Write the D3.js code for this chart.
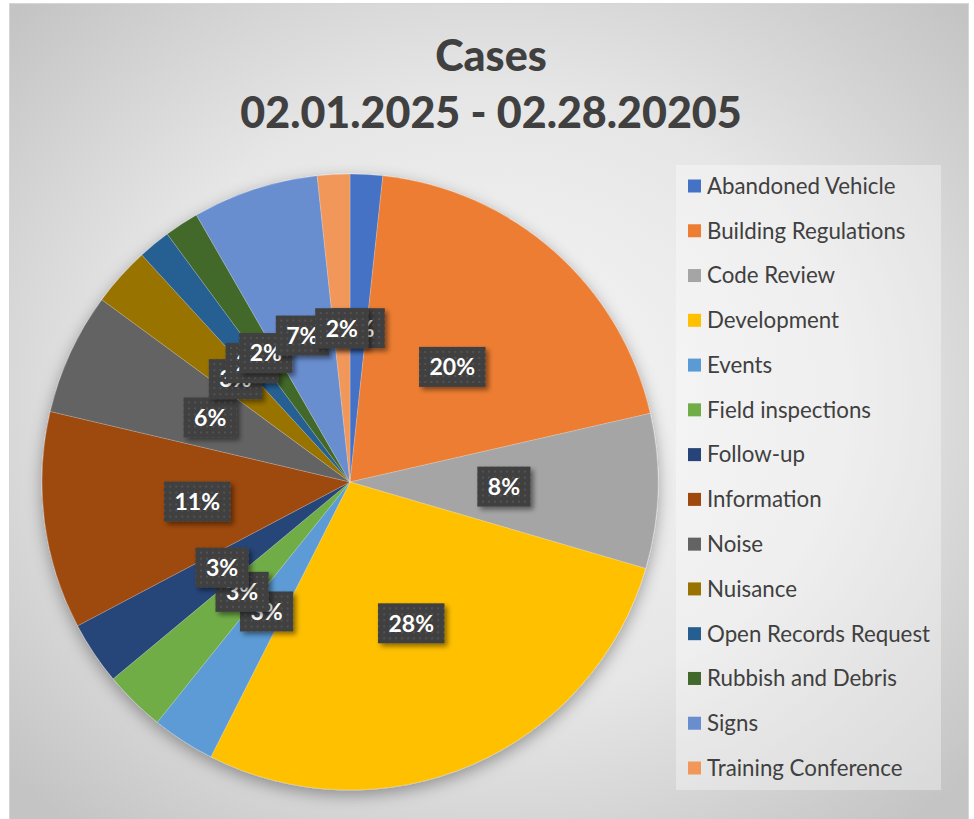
<!DOCTYPE html>
<html>
<head>
<meta charset="utf-8">
<script src="https://cdn.jsdelivr.net/npm/d3@7"></script>
<style>
  body { margin: 0; background: #fff; }
  svg { display: block; }
</style>
</head>
<body>
<div id="chart"></div>
<script>
// Categories and their shares
const categories = [
    "Abandoned Vehicle", "Building Regulations", "Code Review", "Development",
    "Events", "Field inspections", "Follow-up", "Information", "Noise",
    "Nuisance", "Open Records Request", "Rubbish and Debris", "Signs",
    "Training Conference"
];
const shares = [1.7, 19.7, 8.1, 27.9, 3.3, 3.2, 3.3, 11.4, 6.4, 3.1, 1.7, 1.8, 6.6, 1.7];
const colors = [
    "#4472C4", "#ED7D31", "#A5A5A5", "#FFC000", "#5B9BD5", "#70AD47", "#264478",
    "#9E480E", "#636363", "#997300", "#255E91", "#43682B", "#698ED0", "#F1975A"
];
const titleLines = ["Cases", "02.01.2025 - 02.28.20205"];

const width = 974, height = 819;
const cx = 350, cy = 482, radius = 308;

const data = categories.map((c, i) => ({ name: c, value: shares[i], color: colors[i] }));
const total = d3.sum(shares);

const svg = d3.select("#chart")
    .append("svg")
    .attr("width", width)
    .attr("height", height);

const defs = svg.append("defs");

// Background gradient
const bg = defs.append("radialGradient")
    .attr("id", "bg")
    .attr("cx", "50%").attr("cy", "48%").attr("r", "68%");
bg.append("stop").attr("offset", "0%").attr("stop-color", "#f7f7f7");
bg.append("stop").attr("offset", "55%").attr("stop-color", "#e6e6e6");
bg.append("stop").attr("offset", "100%").attr("stop-color", "#c4c4c4");

// Pie shadow
const pieShadow = defs.append("filter").attr("id", "pieShadow")
    .attr("x", "-20%").attr("y", "-20%").attr("width", "140%").attr("height", "140%");
pieShadow.append("feDropShadow")
    .attr("dx", 0).attr("dy", 5).attr("stdDeviation", 8)
    .attr("flood-color", "#000").attr("flood-opacity", 0.35);

// Label shadow
const labShadow = defs.append("filter").attr("id", "labShadow")
    .attr("x", "-30%").attr("y", "-30%").attr("width", "160%").attr("height", "160%");
labShadow.append("feDropShadow")
    .attr("dx", 3).attr("dy", 3).attr("stdDeviation", 2.5)
    .attr("flood-color", "#000").attr("flood-opacity", 0.45);

// Dotted pattern for labels
const pat = defs.append("pattern")
    .attr("id", "dots")
    .attr("patternUnits", "userSpaceOnUse")
    .attr("width", 6).attr("height", 6);
pat.append("rect").attr("width", 6).attr("height", 6).attr("fill", "#3f3f3f");
pat.append("rect").attr("x", 2).attr("y", 2).attr("width", 2).attr("height", 2).attr("fill", "#535353");

// Chart area
svg.append("rect")
    .attr("x", 9.5).attr("y", 3.5)
    .attr("width", 959).attr("height", 820)
    .attr("fill", "url(#bg)")
    .attr("stroke", "#d6d6d6");

// Title
svg.append("g")
    .selectAll("text")
    .data(titleLines)
    .enter()
    .append("text")
    .attr("x", 491)
    .attr("y", (d, i) => 71 + i * 57)
    .attr("text-anchor", "middle")
    .style("font-family", "Lato, 'Open Sans', sans-serif")
    .style("font-weight", "900")
    .style("font-size", "43px")
    .style("fill", "#404040")
    .text(d => d);

// Pie
const pie = d3.pie().sort(null).value(d => d.value).startAngle(0).endAngle(2 * Math.PI);
const arcs = pie(data);
const arc = d3.arc().innerRadius(0).outerRadius(radius);
const labelArc = d3.arc().innerRadius(radius * 0.5).outerRadius(radius * 0.5);

const g = svg.append("g").attr("transform", `translate(${cx},${cy})`);

g.append("g")
    .attr("filter", "url(#pieShadow)")
    .selectAll("path")
    .data(arcs)
    .enter()
    .append("path")
    .attr("d", arc)
    .attr("fill", d => d.data.color)
    .attr("stroke", "rgba(255,255,255,0.35)")
    .attr("stroke-width", 0.6);

// Data labels (later ones on top)
const labels = g.append("g")
    .selectAll("g")
    .data(arcs)
    .enter()
    .append("g")
    .attr("transform", d => `translate(${labelArc.centroid(d)})`);

labels.each(function(d) {
    const el = d3.select(this);
    const txt = Math.round(d.data.value / total * 100) + "%";
    const box = el.append("rect")
        .attr("fill", "url(#dots)")
        .attr("filter", "url(#labShadow)");
    const t = el.append("text")
        .attr("text-anchor", "middle")
        .attr("dy", "0.36em")
        .style("font-family", "Lato, 'Open Sans', sans-serif")
        .style("font-weight", "bold")
        .style("font-size", "23px")
        .style("fill", "#fff")
        .text(txt);
    const w = t.node().getComputedTextLength() + 21;
    box.attr("x", -w / 2).attr("y", -20).attr("width", w).attr("height", 40);
});

// Legend
svg.append("rect")
    .attr("x", 676).attr("y", 165)
    .attr("width", 265).attr("height", 625)
    .attr("fill", "rgba(255,255,255,0.35)");

const ly = d3.scalePoint().domain(categories).range([186, 768]);

const legend = svg.append("g")
    .selectAll("g")
    .data(data)
    .enter()
    .append("g")
    .attr("transform", d => `translate(688,${ly(d.name)})`);

legend.append("rect")
    .attr("x", 0).attr("y", -6.5)
    .attr("width", 13).attr("height", 13)
    .attr("fill", d => d.color);

legend.append("text")
    .attr("x", 19)
    .attr("dy", "0.35em")
    .style("font-family", "Lato, 'Open Sans', sans-serif")
    .style("font-size", "22.3px")
    .style("fill", "#404040")
    .text(d => d.name);
</script>
</body>
</html>
